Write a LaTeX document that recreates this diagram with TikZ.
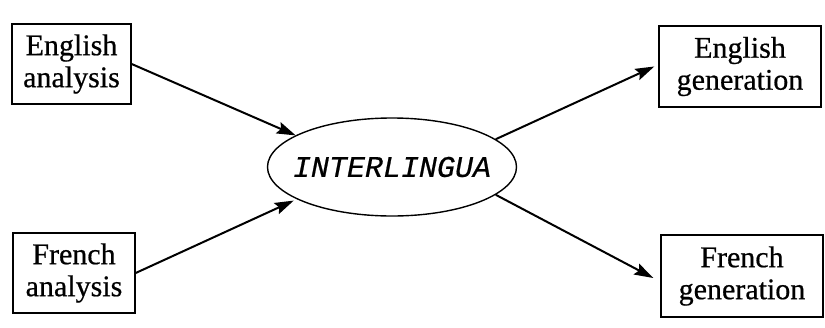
\documentclass[tikz,border=0pt]{standalone}
\usepackage{fontspec}
\setmainfont{Liberation Serif}[FakeBold=0.6]
\newfontfamily\courfont{Liberation Mono}[FakeBold=0.6]
\usetikzlibrary{shapes.geometric,arrows.meta}
\begin{document}
\begin{tikzpicture}[x=1pt,y=-1pt,
  box/.style={draw,line width=1.4pt,inner sep=0pt,align=center,
    font=\fontsize{30}{32}\selectfont},
  arr/.style={line width=2pt,-{Stealth[length=19pt,width=12pt,inset=3pt]}}]
\useasboundingbox (0,0) rectangle (825,327);
\node[box,minimum width=119pt,minimum height=80pt] (ea) at (71.5,64) {English\\analysis};
\node[box,minimum width=122pt,minimum height=80pt] (fa) at (74,273) {French\\analysis};
\node[box,minimum width=162pt,minimum height=81pt] (eg) at (740,66.5) {English\\generation};
\node[box,minimum width=162pt,minimum height=82pt] (fg) at (742,276) {French\\generation};
\node[draw,ellipse,line width=1.4pt,minimum width=249pt,minimum height=98pt,inner sep=0pt] (il) at (392,167) {};
\node[font=\courfont\itshape\fontsize{30}{32}\selectfont,inner sep=0pt] (iltext) at (il.center) {INTERLINGUA};
\draw[arr] (ea.east) -- ([shift={(-4pt,-2pt)}]il.160);
\draw[arr] (fa.east) -- ([shift={(-6pt,0pt)}]il.200);
\draw[arr] (il.15) -- ([xshift=-4pt]eg.west);
\draw[arr] (il.-15) -- ([shift={(-7pt,-2pt)}]fg.west);
\end{tikzpicture}
\end{document}
